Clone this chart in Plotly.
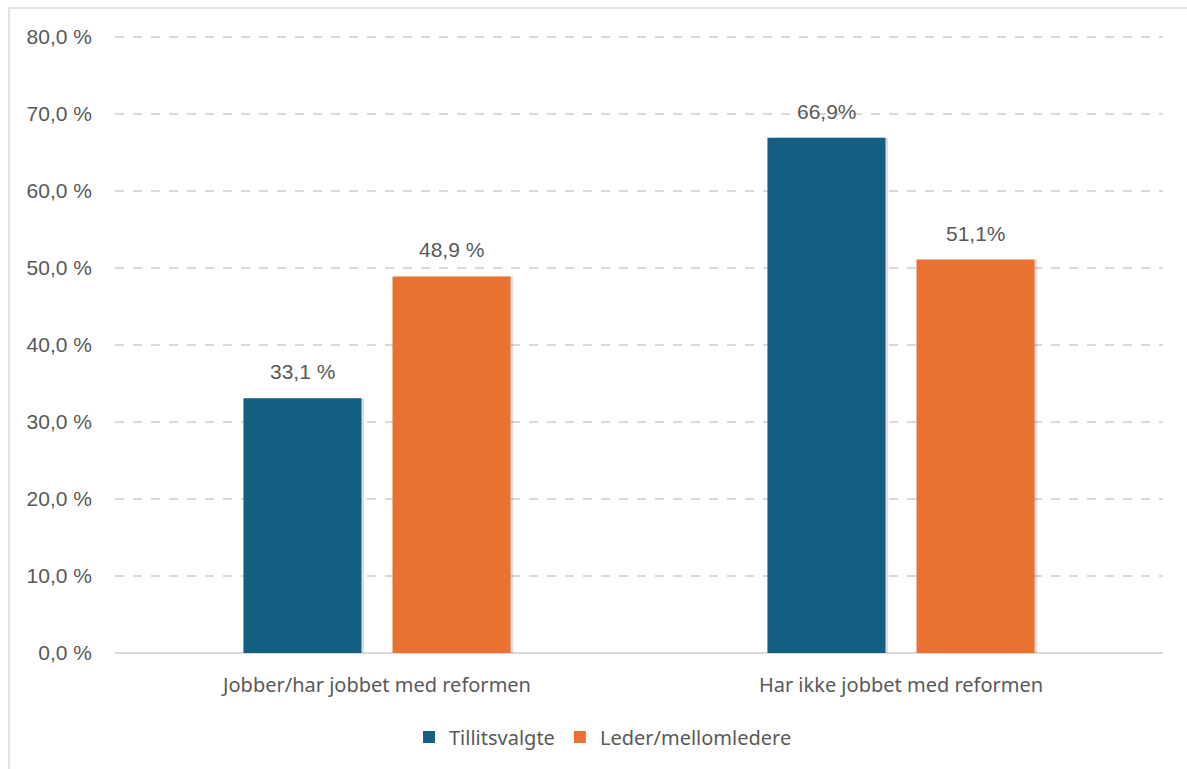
import plotly.graph_objects as go

categories = ["Jobber/har jobbet med reformen", "Har ikke jobbet med reformen"]
series_names = ["Tillitsvalgte", "Leder/mellomledere"]
tillitsvalgte = [33.1, 66.9]
ledere = [48.9, 51.1]
label_tillit = ["33,1 %", "66,9%"]
label_ledere = ["48,9 %", "51,1%"]
y_ticks = [0, 10, 20, 30, 40, 50, 60, 70, 80]
y_ticktext = ["0,0 %", "10,0 %", "20,0 %", "30,0 %", "40,0 %", "50,0 %", "60,0 %", "70,0 %", "80,0 %"]

BLUE = "#156082"
ORANGE = "#E97132"
TEXT = "#595959"
GRID = "#D9D9D9"
NUMFONT = "Liberation Sans, Arial, sans-serif"
CATFONT = "Noto Sans, sans-serif"

fig = go.Figure()

# soft shadows (drawn on the base axis, shifted slightly)
for vals in (tillitsvalgte, ledere):
    fig.add_trace(go.Bar(
        x=categories, y=vals, xaxis="x", yaxis="y",
        marker=dict(color="rgba(0,0,0,0.13)", line=dict(width=0)),
        showlegend=False, hoverinfo="skip",
    ))

fig.add_trace(go.Bar(
    x=categories, y=tillitsvalgte, name=series_names[0], xaxis="x2", yaxis="y",
    marker=dict(color=BLUE, line=dict(width=0)), hoverinfo="y",
))
fig.add_trace(go.Bar(
    x=categories, y=ledere, name=series_names[1], xaxis="x2", yaxis="y",
    marker=dict(color=ORANGE, line=dict(width=0)), hoverinfo="y",
))

annotations = []
for vals, labels, shift in ((tillitsvalgte, label_tillit, -74.5), (ledere, label_ledere, 74.5)):
    for c, v, t in zip(categories, vals, labels):
        annotations.append(dict(
            x=c, y=v, xref="x2", yref="y", text=t, showarrow=False,
            xshift=shift, yshift=13, yanchor="bottom", xanchor="center",
            font=dict(family=NUMFONT, size=21, color=TEXT),
        ))

plot_l, plot_r, plot_t, plot_b = 115, 1163, 35, 653
pw = plot_r - plot_l
ph = plot_b - plot_t

fig.update_layout(
    width=1187, height=769,
    margin=dict(l=plot_l, r=1187 - plot_r, t=plot_t, b=769 - plot_b),
    paper_bgcolor="white", plot_bgcolor="white",
    barmode="group", bargap=0.431, bargroupgap=0.208,
    showlegend=True,
    legend=dict(
        orientation="h", x=(603 - plot_l) / pw, xanchor="center",
        y=-(737 - plot_b) / ph, yanchor="middle",
        font=dict(family=CATFONT, size=20, color=TEXT),
        itemsizing="constant", traceorder="normal", itemwidth=30,
    ),
    xaxis=dict(
        type="category", range=[-0.5 - 0.005, 1.5 - 0.005],
        showgrid=False, showline=False, zeroline=False,
        showticklabels=False,
    ),
    xaxis2=dict(
        type="category", overlaying="x", range=[-0.5, 1.5],
        showgrid=False, showline=False, zeroline=False,
        tickfont=dict(family=CATFONT, size=20, color=TEXT),
        ticks="", ticklabelstandoff=18, side="bottom",
    ),
    yaxis=dict(
        range=[0, 80.26], tickvals=y_ticks, ticktext=y_ticktext,
        tickfont=dict(family=NUMFONT, size=21, color=TEXT),
        showgrid=True, gridcolor=GRID, griddash="dash", gridwidth=1.5,
        zeroline=True, zerolinecolor=GRID, zerolinewidth=2,
        showline=False, ticks="", ticklabelstandoff=22,
    ),
    annotations=annotations,
    shapes=[dict(
        type="rect", xref="paper", yref="paper",
        x0=(9 - plot_l) / pw, x1=(1200 - plot_l) / pw,
        y0=-(790 - plot_b) / ph, y1=(plot_b - 8) / ph,
        line=dict(color=GRID, width=1.5), fillcolor="rgba(0,0,0,0)",
        layer="below",
    )],
)

fig.write_html("out.html")
